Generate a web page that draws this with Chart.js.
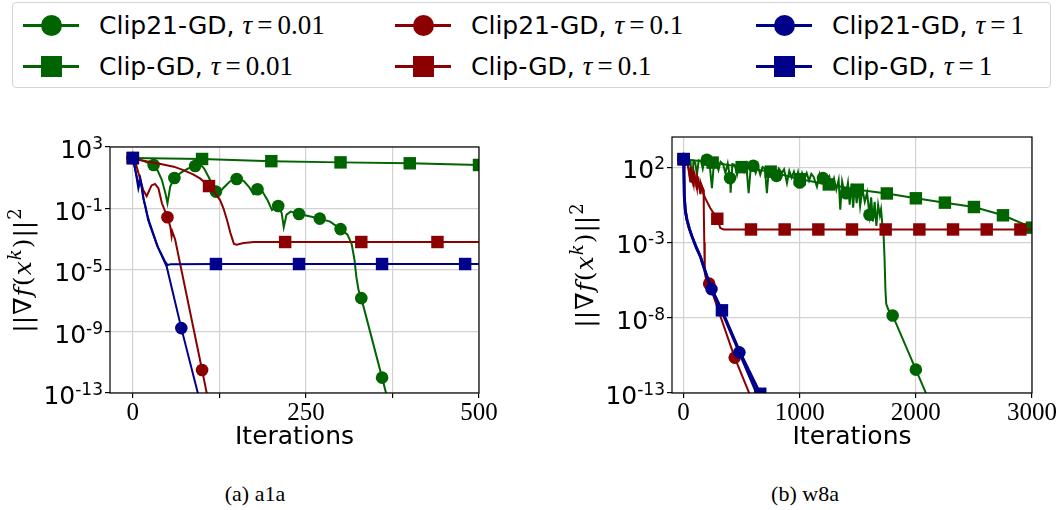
<!DOCTYPE html>
<html>
<head>
<meta charset="utf-8">
<script src="https://cdn.jsdelivr.net/npm/chart.js@4.4.1/dist/chart.umd.min.js"></script>
<style>
  body { margin: 0; width: 1062px; height: 510px; background: #fff; position: relative; overflow: hidden; font-family: "DejaVu Sans"; }
  #legend { position: absolute; left: 12px; top: 2px; width: 1039px; height: 86px; border: 1px solid #d4d4d4; border-radius: 4px; box-sizing: border-box; }
  .item { position: absolute; height: 30px; display: flex; align-items: center; white-space: nowrap; }
  .handle { position: relative; width: 56px; height: 30px; margin-right: 20px; }
  .handle .ln { position: absolute; left: 0; right: 0; top: 13.5px; height: 3px; }
  .handle .mk { position: absolute; left: 17.5px; top: 4.5px; width: 21px; height: 21px; }
  .handle .mk.circle { border-radius: 50%; }
  .lab { font-size: 25px; color: #000; }
  .math { font-family: "Liberation Serif"; font-size: 27px; margin-left: 8px; }
  .math i { margin-right: 5px; }
  .math .eq { margin-right: 5px; }
  .cap { position: absolute; font-family: "Liberation Serif"; font-size: 22px; line-height: 26px; transform: translateX(-50%); white-space: nowrap; }
  canvas { position: absolute; }
</style>
</head>
<body>
<div id="legend"></div>
<canvas id="a1a" width="500" height="345" style="left:0;top:120px"></canvas>
<canvas id="w8a" width="522" height="345" style="left:540px;top:120px"></canvas>
<div class="cap" style="left:255px;top:481px">(a) a1a</div>
<div class="cap" style="left:805px;top:481px">(b) w8a</div>
<script>
// legend / colours
const methodNames = ['Clip21-GD', 'Clip-GD'];
const tauLabels = ['0.01', '0.1', '1'];
const tauColors = ['#006400', '#8b0000', '#00008b'];

// axes
const a1aXTicks = [0, 125, 250, 375, 500];
const a1aXLabels = ['0', '', '250', '', '500'];
const a1aYTicks = [1e3, 1e-1, 1e-5, 1e-9, 1e-13];
const a1aYExps = ['3', '-1', '-5', '-9', '-13'];
const w8aXTicks = [0, 1000, 2000, 3000];
const w8aXLabels = ['0', '1000', '2000', '3000'];
const w8aYTicks = [1e2, 1e-3, 1e-8, 1e-13];
const w8aYExps = ['2', '-3', '-8', '-13'];

// ---- a1a ----
const a1aClip21T001X = [0, 15, 30, 36, 42, 47, 50, 54, 60, 70, 80, 90, 97, 103, 110, 115, 120, 125, 130, 140, 150, 160, 168, 174, 180, 186, 195, 201, 210, 215, 218, 222, 228, 240, 255, 270, 285, 300, 310, 316, 320, 323, 326, 330, 360, 368];
const a1aClip21T001Y = [1.91e2, 1.26e2, 6.76e1, 2.82e1, 7.08, 1.0, 2.19e-1, 2.63, 9.55, 2.24e1, 3.98e1, 5.75e1, 7.94e1, 3.98e1, 1.0e1, 3.16, 1.26, 1.0, 2.0, 5.62, 8.32, 6.31, 2.51, 8.71e-1, 1.78, 1.58, 3.16e-1, 7.94e-2, 1.45e-1, 5.01e-2, 6.03e-3, 3.98e-2, 6.31e-2, 4.37e-2, 3.16e-2, 2.19e-2, 1.41e-2, 4.57e-3, 2.0e-3, 5.01e-4, 5.01e-5, 3.16e-6, 5.01e-7, 1.48e-7, 1.0e-12, 3.98e-14];
const a1aClip21T001M = [0, 30, 60, 90, 120, 150, 180, 210, 240, 270, 300, 330, 360];

const a1aClipT001X = [0, 100, 200, 300, 400, 500];
const a1aClipT001Y = [1.91e2, 1.66e2, 1.2e2, 1.0e2, 8.71e1, 6.76e1];
const a1aClipT001M = [0, 100, 200, 300, 400, 500];

const a1aClip21T01X = [0, 5, 10, 15, 20, 27, 32, 37, 42, 50, 54, 56, 57, 61, 100, 108];
const a1aClip21T01Y = [1.91e2, 6.31e1, 1.0e1, 1.58, 6.31e-1, 3.16, 3.98, 2.0, 2.19e-1, 2.69e-2, 6.92e-3, 1.58e-3, 3.16e-3, 1.0e-3, 3.16e-12, 5.01e-14];
const a1aClip21T01M = [0, 50, 100];

const a1aClipT01X = [0, 10, 35, 59, 73, 87, 97, 110, 118, 126, 131, 136, 141, 146, 150, 160, 175, 220, 330, 440, 500];
const a1aClipT01Y = [1.91e2, 1.41e2, 8.71e1, 5.25e1, 3.16e1, 1.66e1, 9.12, 2.88, 1.12, 3.55e-1, 1.0e-1, 1.78e-2, 2.51e-3, 5.01e-4, 4.37e-4, 5.62e-4, 6.61e-4, 6.61e-4, 6.61e-4, 6.61e-4, 6.61e-4];
const a1aClipT01M = [0, 110, 220, 330, 440];

const a1aClip21T1X = [0, 4, 8, 11, 15, 19, 22, 35, 49, 70, 95];
const a1aClip21T1Y = [1.91e2, 2.51e1, 2.0, 7.94, 5.01e-1, 1.0e-1, 1.78e-2, 3.98e-4, 1.58e-5, 1.66e-9, 6.31e-14];
const a1aClip21T1M = [0, 70];

const a1aClipT1X = [0, 5, 9, 12, 16, 20, 24, 36, 46, 50, 55, 120, 240, 360, 480, 500];
const a1aClipT1Y = [1.91e2, 1.58e1, 3.16, 5.01, 3.16e-1, 5.01e-2, 1.26e-2, 3.16e-4, 3.98e-5, 2.09e-5, 2.4e-5, 2.45e-5, 2.45e-5, 2.45e-5, 2.45e-5, 2.45e-5];
const a1aClipT1M = [0, 120, 240, 360, 480];

// ---- w8a ----
const w8aClip21T001X = [0, 15, 30, 45, 60, 72, 85, 100, 115, 130, 150, 165, 180, 200, 222, 244, 262, 280, 300, 318, 340, 360, 380, 400, 405, 420, 440, 460, 480, 500, 520, 540, 560, 580, 600, 620, 640, 660, 680, 700, 717, 735, 760, 780, 800, 820, 845, 865, 890, 910, 930, 950, 970, 985, 1000, 1020, 1040, 1060, 1080, 1100, 1120, 1148, 1170, 1185, 1200, 1215, 1235, 1255, 1275, 1295, 1315, 1335, 1349, 1365, 1385, 1400, 1415, 1430, 1445, 1460, 1475, 1490, 1505, 1520, 1540, 1560, 1580, 1600, 1615, 1630, 1645, 1660, 1675, 1690, 1700, 1712, 1722, 1730, 1738, 1745, 1763, 1800, 2000, 2100];
const w8aClip21T001Y = [3.39e2, 3.16e2, 1.58e2, 2.82e2, 2.24e2, 8.71, 2.51e2, 2.0e2, 3.16e1, 2.82e2, 2.51e2, 7.94e1, 3.16e2, 3.09e2, 2.24e2, 3.98, 2.51e2, 2.0e2, 6.31e1, 2.24e2, 1.58e2, 3.98e1, 1.78e2, 1.86e1, 2.0, 1.58e2, 1.41e2, 3.16e1, 1.58e2, 1.26e2, 5.01e1, 1.41e2, 1.86, 1.41e2, 1.23e2, 3.98e1, 1.12e2, 3.16e1, 1.0e2, 7.94e1, 1.86, 8.91e1, 6.31e1, 2.0e1, 2.63e1, 7.94e1, 3.98e1, 7.08e1, 8.71, 5.62e1, 2.0e1, 5.01e1, 1.58e1, 4.47e1, 9.55, 3.98e1, 1.58e1, 3.98e1, 1.26e1, 3.55e1, 2.24e1, 5.01, 3.16e1, 1.0e1, 1.86e1, 2.82e1, 7.94, 2.24e1, 5.01, 1.78e1, 3.16, 1.41e1, 1.48e-1, 1.12e1, 2.0, 1.86, 8.91, 3.16e-1, 7.94, 2.0e-1, 7.08, 3.98e-1, 5.01, 2.51e-1, 3.55, 5.01e-1, 2.0, 6.92e-2, 1.0, 2.51e-2, 5.01e-1, 1.26e-2, 3.16e-1, 6.31e-2, 1.58e-1, 1.26e-2, 3.16e-3, 1.0e-4, 6.31e-7, 7.94e-8, 3.39e-8, 1.41e-8, 3.55e-12, 5.62e-14];
const w8aClip21T001M = [0, 200, 400, 600, 800, 1000, 1200, 1400, 1600, 1800, 2000];

const w8aClipT001X = [0, 250, 500, 750, 1000, 1250, 1500, 1750, 2000, 2250, 2500, 2750, 3000];
const w8aClipT001Y = [3.39e2, 2.0e2, 1.0e2, 5.01e1, 1.58e1, 7.08, 3.16, 1.78, 8.51e-1, 4.37e-1, 2.24e-1, 6.31e-2, 9.55e-3];
const w8aClipT001M = [0, 250, 500, 750, 1000, 1250, 1500, 1750, 2000, 2250, 2500, 2750, 3000];

const w8aClip21T01X = [0, 35, 58, 62, 86, 90, 115, 119, 143, 147, 172, 174, 178, 182, 195, 220, 440, 575];
const w8aClip21T01Y = [3.39e2, 1.58e2, 1.26e1, 1.0e2, 5.01, 5.01e1, 3.16, 2.51e1, 1.86, 8.91, 3.09, 1.12e-1, 1.0e-3, 1.0e-5, 3.16e-6, 1.82e-6, 2.24e-11, 6.31e-14];
const w8aClip21T01M = [0, 220, 440];

const w8aClipT01X = [0, 40, 58, 62, 86, 90, 115, 119, 143, 147, 172, 186, 229, 290, 316, 345, 580, 870, 1160, 1450, 1740, 2030, 2320, 2610, 2900, 3000];
const w8aClipT01Y = [3.39e2, 1.26e2, 1.12e1, 7.94e1, 7.94, 3.98e1, 3.98, 2.0e1, 2.51, 7.94, 1.58, 8.71e-1, 1.91e-1, 3.72e-2, 8.91e-3, 7.24e-3, 7.24e-3, 7.24e-3, 7.24e-3, 7.24e-3, 7.24e-3, 7.24e-3, 7.24e-3, 7.24e-3, 7.24e-3, 7.24e-3];
const w8aClipT01M = [0, 290, 580, 870, 1160, 1450, 1740, 2030, 2320, 2610, 2900];

const w8aClip21T1X = [0, 3, 6, 15, 29, 50, 72, 110, 144, 172, 205, 240, 330, 480, 640];
const w8aClip21T1Y = [3.39e2, 3.16e1, 1.12, 1.26e-1, 3.16e-2, 7.94e-3, 2.51e-3, 4.47e-4, 1.17e-4, 2.51e-5, 4.47e-6, 7.94e-7, 2.51e-8, 5.01e-11, 6.31e-14];
const w8aClip21T1M = [0, 240, 480];

const w8aClipT1X = [0, 3, 6, 15, 29, 50, 72, 110, 144, 172, 205, 240, 330, 480, 660];
const w8aClipT1Y = [3.39e2, 3.16e1, 1.12, 1.26e-1, 3.16e-2, 7.94e-3, 2.51e-3, 4.47e-4, 1.17e-4, 2.51e-5, 4.47e-6, 8.91e-7, 3.09e-8, 6.31e-11, 8.91e-14];
const w8aClipT1M = [0, 330, 660];

// legend
const legendEl = document.getElementById('legend');
const legendCols = [10, 382, 743];
const legendRows = [7, 48];
tauLabels.forEach((tau, c) => {
  methodNames.forEach((name, r) => {
    const it = document.createElement('div');
    it.className = 'item';
    it.style.left = legendCols[c] + 'px';
    it.style.top = legendRows[r] + 'px';
    const shape = r === 0 ? 'circle' : 'square';
    it.innerHTML = '<div class="handle"><div class="ln" style="background:' + tauColors[c] + '"></div>' +
      '<div class="mk ' + shape + '" style="background:' + tauColors[c] + '"></div></div>' +
      '<span class="lab">' + name + ',</span><span class="math"><i>τ</i><span class="eq">=</span>' + tau + '</span>';
    legendEl.appendChild(it);
  });
});

function decor(yExps) {
  return {
    id: 'decor',
    afterDraw(chart) {
      const {ctx, chartArea: a} = chart;
      const y = chart.scales.y;
      ctx.save();
      ctx.strokeStyle = '#000';
      ctx.lineWidth = 1.2;
      ctx.strokeRect(a.left, a.top, a.right - a.left, a.bottom - a.top);
      ctx.fillStyle = '#000';
      ctx.textAlign = 'left';
      ctx.textBaseline = 'alphabetic';
      y.ticks.forEach((t, i) => {
        const py = y.getPixelForValue(t.value);
        ctx.font = '25px "DejaVu Sans"';
        const wb = ctx.measureText('10').width;
        ctx.font = '17px "DejaVu Sans"';
        const we = ctx.measureText(yExps[i]).width;
        const x0 = a.left - 7 - wb - we;
        ctx.font = '25px "DejaVu Sans"';
        ctx.fillText('10', x0, py + 11);
        ctx.font = '17px "DejaVu Sans"';
        ctx.fillText(yExps[i], x0 + wb, py + 2);
      });
      // y title ||∇f(x^k)||^2
      const segs = [['||', '', 0], ['∇', '', 0], ['f', 'italic ', 0], ['(', '', 0], ['x', 'italic ', 0],
                    ['k', 'italic ', 1], [')', '', 0], ['||', '', 0], ['2', '', 1]];
      const fontOf = s => s[1] + (s[2] ? '18px' : '25px') + ' "DejaVu Serif"';
      let total = 0;
      segs.forEach(s => { ctx.font = fontOf(s); total += ctx.measureText(s[0]).width + 1; });
      ctx.translate(a.left - 85, (a.top + a.bottom) / 2);
      ctx.rotate(-Math.PI / 2);
      let x = -total / 2;
      segs.forEach(s => {
        ctx.font = fontOf(s);
        ctx.fillText(s[0], x, s[2] ? -4 : 6);
        x += ctx.measureText(s[0]).width + 1;
      });
      ctx.restore();
    }
  };
}

function buildChart(id, series, o) {
  const datasets = series.map((s, i) => ({
    data: s.x.map((x, k) => ({x: x, y: s.y[k]})),
    borderColor: s.color,
    backgroundColor: s.color,
    borderWidth: s.width,
    pointStyle: s.shape === 'circle' ? 'circle' : 'rect',
    pointRadius: c => (c.raw && s.marks.includes(c.raw.x)) ? (s.shape === 'circle' ? 6.3 : 8.8) : 0,
    pointBorderWidth: 0,
    clip: 0,
    order: 6 - i
  }));
  const grid = {color: '#d2d2d2', lineWidth: 1.2, tickColor: '#000', tickLength: 5, tickWidth: 1.2};
  return new Chart(document.getElementById(id), {
    type: 'line',
    data: {datasets: datasets},
    options: {
      responsive: false,
      animation: false,
      events: [],
      layout: {padding: {left: 0, right: o.padRight, top: o.padTop, bottom: 0}},
      plugins: {legend: {display: false}, tooltip: {enabled: false}},
      scales: {
        x: {
          type: 'linear', min: o.xMin, max: o.xMax, bounds: 'data',
          afterBuildTicks: sc => { sc.ticks = o.xTicks.map(v => ({value: v})); },
          afterFit: sc => { sc.height = 72; },
          ticks: {font: {family: '"Liberation Serif", serif', size: 25}, color: '#000', padding: 0, maxRotation: 0, autoSkip: false,
                  callback: (v, i) => o.xLabels[i]},
          grid: grid,
          border: {display: false},
          title: {display: true, text: 'Iterations', color: '#000', font: {family: '"DejaVu Sans"', size: 25}, padding: {top: 0, bottom: 13}}
        },
        y: {
          type: 'logarithmic', min: 1e-13, max: o.yMax,
          afterBuildTicks: sc => { sc.ticks = o.yTicks.map(v => ({value: v})); },
          afterFit: sc => { sc.width = o.yWidth; },
          ticks: {display: false},
          grid: grid,
          border: {display: false}
        }
      }
    },
    plugins: [decor(o.yExps)]
  });
}

const [g, r, b] = tauColors;
buildChart('a1a', [
  {x: a1aClip21T001X, y: a1aClip21T001Y, marks: a1aClip21T001M, color: g, shape: 'circle', width: 2},
  {x: a1aClipT001X, y: a1aClipT001Y, marks: a1aClipT001M, color: g, shape: 'square', width: 2},
  {x: a1aClip21T01X, y: a1aClip21T01Y, marks: a1aClip21T01M, color: r, shape: 'circle', width: 2},
  {x: a1aClipT01X, y: a1aClipT01Y, marks: a1aClipT01M, color: r, shape: 'square', width: 2},
  {x: a1aClip21T1X, y: a1aClip21T1Y, marks: a1aClip21T1M, color: b, shape: 'circle', width: 2},
  {x: a1aClipT1X, y: a1aClipT1Y, marks: a1aClipT1M, color: b, shape: 'square', width: 2}
], {xMin: -33, xMax: 500, xTicks: a1aXTicks, xLabels: a1aXLabels, yMax: 1e3, yTicks: a1aYTicks, yExps: a1aYExps,
    yWidth: 110, padRight: 21, padTop: 27});

buildChart('w8a', [
  {x: w8aClip21T001X, y: w8aClip21T001Y, marks: w8aClip21T001M, color: g, shape: 'circle', width: 2},
  {x: w8aClipT001X, y: w8aClipT001Y, marks: w8aClipT001M, color: g, shape: 'square', width: 2},
  {x: w8aClip21T01X, y: w8aClip21T01Y, marks: w8aClip21T01M, color: r, shape: 'circle', width: 2},
  {x: w8aClipT01X, y: w8aClipT01Y, marks: w8aClipT01M, color: r, shape: 'square', width: 2},
  {x: w8aClip21T1X, y: w8aClip21T1Y, marks: w8aClip21T1M, color: b, shape: 'circle', width: 2.8},
  {x: w8aClipT1X, y: w8aClipT1Y, marks: w8aClipT1M, color: b, shape: 'square', width: 2.8}
], {xMin: -100, xMax: 3000, xTicks: w8aXTicks, xLabels: w8aXLabels, yMax: 1e4, yTicks: w8aYTicks, yExps: w8aYExps,
    yWidth: 132, padRight: 30, padTop: 17});
</script>
</body>
</html>
